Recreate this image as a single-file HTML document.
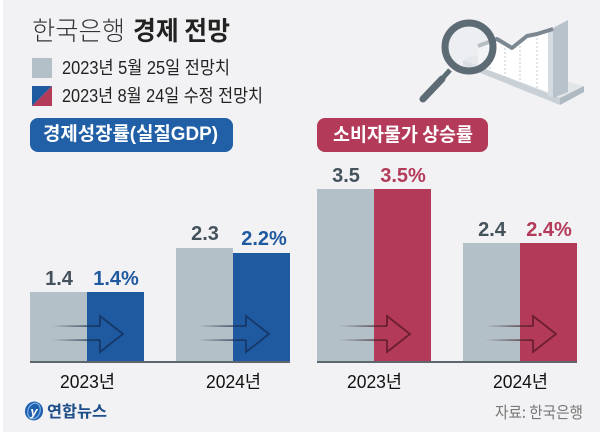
<!DOCTYPE html>
<html><head><meta charset="utf-8">
<style>
html,body{margin:0;padding:0;background:#f2f2f4;}
body{width:600px;height:432px;overflow:hidden;position:relative;}
svg{display:block;}
text{font-family:"Liberation Sans","Noto Sans CJK KR",sans-serif;}
.k{font-family:"Noto Sans CJK KR","Liberation Sans",sans-serif;}
</style></head>
<body>
<svg width="600" height="432" viewBox="0 0 600 432" xmlns="http://www.w3.org/2000/svg">
<defs>
  <linearGradient id="fadeB" x1="0" x2="1" y1="0" y2="0">
    <stop offset="0" stop-color="#1a2a40" stop-opacity="0"/>
    <stop offset="0.5" stop-color="#1a2a40" stop-opacity="0.45"/>
    <stop offset="1" stop-color="#14305a" stop-opacity="0.8"/>
  </linearGradient>
  <linearGradient id="fadeR" x1="0" x2="1" y1="0" y2="0">
    <stop offset="0" stop-color="#3a2a30" stop-opacity="0"/>
    <stop offset="0.5" stop-color="#3a2a30" stop-opacity="0.45"/>
    <stop offset="1" stop-color="#5e1a2c" stop-opacity="0.85"/>
  </linearGradient>
</defs>
<rect x="0" y="0" width="600" height="432" fill="#f2f2f4"/>
<rect x="0" y="0" width="3" height="432" fill="#ffffff"/>

<!-- Title -->
<text class="k" x="32" y="40" font-size="26" font-weight="300" fill="#333" textLength="93" lengthAdjust="spacingAndGlyphs">한국은행</text>
<text class="k" x="133" y="40" font-size="26" font-weight="700" fill="#222" textLength="97" lengthAdjust="spacingAndGlyphs">경제 전망</text>

<!-- Legend -->
<rect x="32" y="58" width="20" height="20" fill="#b4c0c8"/>
<text x="62" y="74" font-size="18" fill="#222" textLength="168" lengthAdjust="spacingAndGlyphs">2023년 5월 25일 전망치</text>
<polygon points="32,86 52,86 32,106" fill="#1f5aa0"/>
<polygon points="52,86 52,106 32,106" fill="#b43a59"/>
<text x="62" y="102" font-size="18" fill="#222" textLength="201" lengthAdjust="spacingAndGlyphs">2023년 8월 24일 수정 전망치</text>

<!-- Category boxes -->
<rect x="30" y="118" width="203" height="34" rx="8" fill="#2160a6"/>
<text x="43" y="140" font-size="19" font-weight="700" fill="#fff" textLength="175" lengthAdjust="spacingAndGlyphs">경제성장률(실질GDP)</text>
<rect x="317" y="118" width="171" height="34" rx="8" fill="#b43a59"/>
<text class="k" x="333" y="141" font-size="19" font-weight="700" fill="#fff" textLength="140" lengthAdjust="spacingAndGlyphs">소비자물가 상승률</text>

<!-- Illustration -->
<g>
  <polygon points="463,60 474,55 584,86 560,98" fill="#e2e6e9"/>
  <polygon points="463,60 560,98 560,105 463,66" fill="#c9d1d7"/>
  <polygon points="560,98 584,86 584,92 560,105" fill="#aeb9c1"/>
  <polygon points="478,46 497,39 512,48 527,36 537,34 553,29 553,94 478,66" fill="#ffffff"/>
  <g stroke="#c5ccd2" stroke-width="1" stroke-dasharray="2,2">
    <line x1="490" y1="43" x2="490" y2="71"/>
    <line x1="505" y1="44" x2="505" y2="77"/>
    <line x1="520" y1="42" x2="520" y2="83"/>
    <line x1="537" y1="34" x2="537" y2="89"/>
  </g>
  <polygon points="553,28 568,20 568,92 553,98" fill="#b7c2ca"/>
  <polygon points="548,30 553,28 553,98 548,96" fill="#d5dce1"/>
  <polyline points="478,46 497,39 512,48 527,36 537,34 553,29" fill="none" stroke="#7b8891" stroke-width="4" stroke-linejoin="round"/>
  <circle cx="469" cy="47" r="24" fill="#e8ebee" fill-opacity="0.55" stroke="#5d6b75" stroke-width="7"/>
  <line x1="450" y1="70" x2="441" y2="80" stroke="#5d6b75" stroke-width="5"/>
  <line x1="442" y1="79" x2="423" y2="99" stroke="#5d6b75" stroke-width="7" stroke-linecap="round"/>
</g>

<!-- GDP bars -->
<rect x="30" y="292" width="57" height="70" fill="#b4c0c8"/>
<rect x="87" y="292" width="57" height="70" fill="#1f5aa0"/>
<rect x="176" y="248" width="57" height="114" fill="#b4c0c8"/>
<rect x="233" y="253" width="57" height="109" fill="#1f5aa0"/>
<!-- CPI bars -->
<rect x="317" y="189" width="57" height="173" fill="#b4c0c8"/>
<rect x="374" y="189" width="57" height="173" fill="#b43a59"/>
<rect x="463" y="243" width="57" height="119" fill="#b4c0c8"/>
<rect x="520" y="243" width="57" height="119" fill="#b43a59"/>

<!-- Arrow shafts -->
<rect x="52" y="325.2" width="48" height="1.8" fill="url(#fadeB)"/>
<rect x="52" y="339.2" width="48" height="1.8" fill="url(#fadeB)"/>
<rect x="198" y="325.2" width="48" height="1.8" fill="url(#fadeB)"/>
<rect x="198" y="339.2" width="48" height="1.8" fill="url(#fadeB)"/>
<rect x="339" y="325.2" width="48" height="1.8" fill="url(#fadeR)"/>
<rect x="339" y="339.2" width="48" height="1.8" fill="url(#fadeR)"/>
<rect x="485" y="325.2" width="48" height="1.8" fill="url(#fadeR)"/>
<rect x="485" y="339.2" width="48" height="1.8" fill="url(#fadeR)"/>
<!-- Arrow heads -->
<g fill="none" stroke-width="1.8">
  <polyline points="100,326 100,316 123,334 100,352 100,340" stroke="#14305a" stroke-opacity="0.8"/>
  <polyline points="246,326 246,316 269,334 246,352 246,340" stroke="#14305a" stroke-opacity="0.8"/>
  <polyline points="387,326 387,316 410,334 387,352 387,340" stroke="#5e1a2c" stroke-opacity="0.85"/>
  <polyline points="533,326 533,316 556,334 533,352 533,340" stroke="#5e1a2c" stroke-opacity="0.85"/>
</g>

<!-- Axis lines -->
<rect x="30" y="361" width="260" height="2" fill="#5f666d"/>
<rect x="317" y="361" width="260" height="2" fill="#5f666d"/>

<!-- Value labels -->
<g font-size="20" font-weight="700" text-anchor="middle">
  <text x="59" y="285" fill="#44525c">1.4</text>
  <text x="116" y="285" fill="#1f5aa0">1.4%</text>
  <text x="205" y="240" fill="#44525c">2.3</text>
  <text x="264" y="245" fill="#1f5aa0">2.2%</text>
  <text x="346" y="182" fill="#44525c">3.5</text>
  <text x="403" y="182" fill="#b43a59">3.5%</text>
  <text x="492" y="236" fill="#44525c">2.4</text>
  <text x="549" y="236" fill="#b43a59">2.4%</text>
</g>

<!-- Year labels -->
<text x="60" y="388" font-size="18" fill="#111" textLength="55" lengthAdjust="spacingAndGlyphs">2023년</text>
<text x="206" y="388" font-size="18" fill="#111" textLength="55" lengthAdjust="spacingAndGlyphs">2024년</text>
<text x="347" y="388" font-size="18" fill="#111" textLength="55" lengthAdjust="spacingAndGlyphs">2023년</text>
<text x="493" y="388" font-size="18" fill="#111" textLength="55" lengthAdjust="spacingAndGlyphs">2024년</text>

<!-- Yonhap logo -->
<ellipse cx="34" cy="411" rx="9" ry="9.5" fill="#1e5fae" transform="rotate(20 34 411)"/>
<ellipse cx="34" cy="411" rx="6" ry="8" fill="none" stroke="#7fb3e6" stroke-width="1.2" transform="rotate(20 34 411)"/>
<text x="34" y="416" font-size="13" font-weight="700" font-style="italic" fill="#fff" text-anchor="middle">y</text>
<text class="k" x="47" y="417" font-size="16" font-weight="700" fill="#1d4e89" textLength="60" lengthAdjust="spacingAndGlyphs">연합뉴스</text>

<!-- Source -->
<text class="k" x="495" y="418" font-size="16" fill="#777" textLength="88" lengthAdjust="spacingAndGlyphs">자료: 한국은행</text>
</svg>
</body></html>
